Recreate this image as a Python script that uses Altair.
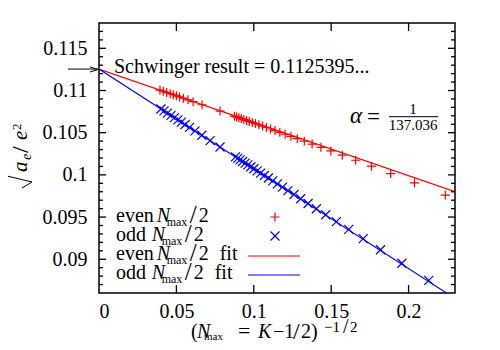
import altair as alt
import pandas as pd

# ---------------- data ----------------
even_x = [0.22374, 0.20381, 0.18840, 0.17604, 0.16582, 0.15720, 0.14980, 0.14336,
          0.13768, 0.13262, 0.12809, 0.12398, 0.12026, 0.11684, 0.11371, 0.11081,
          0.10812, 0.10562, 0.10329, 0.10110, 0.09905, 0.09711, 0.09529, 0.09357,
          0.09193, 0.09038, 0.08890, 0.08750,
          0.0782, 0.0666, 0.0608, 0.0575, 0.0545, 0.0520, 0.0500, 0.0480, 0.0460,
          0.0437, 0.0415, 0.0394]
even_y = [0.097605, 0.099058, 0.100158, 0.101027, 0.101736, 0.102329, 0.102834, 0.103271,
          0.103654, 0.103992, 0.104296, 0.104569, 0.104817, 0.105043, 0.105250, 0.105440,
          0.105617, 0.105781, 0.105934, 0.106077, 0.106211, 0.106338, 0.106457, 0.106568,
          0.106675, 0.106776, 0.106872, 0.106962,
          0.107564, 0.108310, 0.108681, 0.108893, 0.109085, 0.109244, 0.109371, 0.109498,
          0.109626, 0.109772, 0.109912, 0.110046]
odd_x = [0.21308, 0.19565, 0.18190, 0.17070, 0.16134, 0.15337, 0.14647, 0.14043,
         0.13508, 0.13030, 0.12599, 0.12208, 0.11851, 0.11524, 0.11223, 0.10944,
         0.10685, 0.10443, 0.10218, 0.10006, 0.09807, 0.09619, 0.09441, 0.09274,
         0.09114, 0.08963, 0.08819,
         0.0782, 0.0718, 0.0664, 0.0620, 0.0585, 0.0556, 0.0532, 0.0510, 0.0487,
         0.0465, 0.0442, 0.0420, 0.0400]
odd_y = [0.087499, 0.089526, 0.091129, 0.092438, 0.093533, 0.094466, 0.095274, 0.095983,
         0.096611, 0.097172, 0.097678, 0.098137, 0.098557, 0.098942, 0.099295, 0.099624,
         0.099928, 0.100213, 0.100478, 0.100728, 0.100962, 0.101183, 0.101394, 0.101590,
         0.101778, 0.101957, 0.102126,
         0.103304, 0.104059, 0.104696, 0.105216, 0.105628, 0.105971, 0.106254, 0.106514,
         0.106785, 0.107045, 0.107317, 0.107577, 0.107813]
fit_x = [0.0, 0.23]
even_fit_y = [0.11254, 0.09801]
odd_fit_y = [0.11254, 0.08535]
schwinger = 0.1125395
x_labels = [0, 0.05, 0.1, 0.15, 0.2]
x_ticks = [0.05, 0.1, 0.15, 0.2]
y_major = [0.09, 0.095, 0.1, 0.105, 0.11, 0.115]
y_minor = [0.087, 0.088, 0.089, 0.091, 0.092, 0.093, 0.094, 0.096, 0.097, 0.098, 0.099,
           0.101, 0.102, 0.103, 0.104, 0.106, 0.107, 0.108, 0.109, 0.111, 0.112, 0.113,
           0.114, 0.116, 0.117]

# ---------------- layout ----------------
W, H = 356, 270
OX, OY = 99, 23          # page position of the plot origin
SERIF = "Liberation Serif"
RED, BLUE = "#ff0000", "#0000ff"
PLUS = "M-1,0L1,0M0,-1L0,1"
CROSS = "M-1,-1L1,1M-1,1L1,-1"

xs = alt.Scale(domain=[0, 0.23], nice=False, zero=False)
ys = alt.Scale(domain=[0.086, 0.118], nice=False, zero=False)
AXX = alt.Axis(values=x_labels, format="~g", ticks=False, tickSize=0, domain=False, grid=False,
               title=None, labelFont=SERIF, labelFontSize=20, labelColor="black", labelPadding=8)
AXY = alt.Axis(values=y_major, format="~g", ticks=False, tickSize=0, domain=False, grid=False,
               title=None, labelFont=SERIF, labelFontSize=20, labelColor="black", labelPadding=12)

def X(f):
    return alt.X(f, scale=xs, axis=AXX)

def Y(f):
    return alt.Y(f, scale=ys, axis=AXY)

layers = []

# fit lines
fit_df = pd.DataFrame({"x": fit_x, "e": even_fit_y, "o": odd_fit_y})
layers.append(alt.Chart(fit_df).mark_line(color=RED, strokeWidth=1.1, clip=True).encode(
    x=X("x:Q"), y=Y("e:Q")))
layers.append(alt.Chart(fit_df).mark_line(color=BLUE, strokeWidth=1.1, clip=True).encode(
    x=X("x:Q"), y=Y("o:Q")))

# data points
layers.append(alt.Chart(pd.DataFrame({"x": even_x, "y": even_y})).mark_point(
    shape=PLUS, size=81, strokeWidth=1.2, color=RED, filled=False, opacity=1).encode(
    x=X("x:Q"), y=Y("y:Q")))
layers.append(alt.Chart(pd.DataFrame({"x": odd_x, "y": odd_y})).mark_point(
    shape=CROSS, size=81, strokeWidth=1.2, color=BLUE, filled=False, opacity=1).encode(
    x=X("x:Q"), y=Y("y:Q")))

# inward ticks
def xtick_layer(vals, y0, y1):
    return alt.Chart(pd.DataFrame({"t": vals})).mark_rule(color="black", strokeWidth=1.3).encode(
        x=X("t:Q"), y=alt.value(y0), y2=alt.value(y1))

def ytick_layer(vals, x0, x1):
    return alt.Chart(pd.DataFrame({"t": vals})).mark_rule(color="black", strokeWidth=1.3).encode(
        y=Y("t:Q"), x=alt.value(x0), x2=alt.value(x1))

layers += [xtick_layer(x_ticks, H, H - 8), xtick_layer(x_ticks, 0, 8),
           ytick_layer(y_major, 0, 7), ytick_layer(y_major, W, W - 7),
           ytick_layer(y_minor, 0, 4), ytick_layer(y_minor, W, W - 4)]

# Schwinger arrow (outside, left of the axis)
sch = pd.DataFrame({"v": [schwinger]})
layers.append(alt.Chart(sch).mark_rule(color="black", strokeWidth=1).encode(
    y=Y("v:Q"), x=alt.value(68 - OX), x2=alt.value(98 - OX)))


def T(s, px, py, size=20, style="normal", align="left", angle=0, color="black"):
    return alt.Chart(pd.DataFrame({"s": [s]})).mark_text(
        font=SERIF, fontSize=size, fontStyle=style, align=align, baseline="alphabetic",
        angle=angle, color=color).encode(x=alt.value(px - OX), y=alt.value(py - OY), text="s:N")

def R(px0, py0, px1, py1, color="black", w=1.0):
    return alt.Chart(pd.DataFrame({"a": [0]})).mark_rule(color=color, strokeWidth=w).encode(
        x=alt.value(px0 - OX), x2=alt.value(px1 - OX), y=alt.value(py0 - OY), y2=alt.value(py1 - OY))

# arrow head
layers.append(R(90, 67, 98, 69.5))
layers.append(R(90, 72, 98, 69.5))

# annotations
layers.append(T("Schwinger result = 0.1125395...", 114, 73))
layers.append(T("α", 350, 123, size=23, style="italic"))
layers.append(T("=", 367, 124, size=23))
layers.append(T("1", 413, 114, size=15, align="center"))
layers.append(T("137.036", 413, 130, size=15, align="center"))
layers.append(R(389, 116.7, 438, 116.7))

# legend
leg_words = ["even", "odd", "even", "odd"]
leg_base = [222, 241, 260, 279]
for i, (w, b) in enumerate(zip(leg_words, leg_base)):
    nx = 156.7 if w == "even" else 151.7
    layers.append(T(w, 116, b))
    layers.append(T("N", nx, b, style="italic"))
    layers.append(T("max", nx + 10, b + 4, size=12))
    layers.append(T("/", nx + 33, b + 1, size=25))
    layers.append(T("2", nx + 42, b))
    if i >= 2:
        layers.append(T("fit", nx + 63, b))
layers.append(alt.Chart(pd.DataFrame({"a": [0]})).mark_point(
    shape=PLUS, size=81, strokeWidth=1.2, color=RED, filled=False, opacity=1).encode(
    x=alt.value(275 - OX), y=alt.value(217 - OY)))
layers.append(alt.Chart(pd.DataFrame({"a": [0]})).mark_point(
    shape=CROSS, size=81, strokeWidth=1.2, color=BLUE, filled=False, opacity=1).encode(
    x=alt.value(275 - OX), y=alt.value(236 - OY)))
layers.append(R(248, 256, 300, 256, color=RED, w=1.1))
layers.append(R(248, 275, 300, 275, color=BLUE, w=1.1))

# x title
layers.append(T("(", 191, 337.5))
layers.append(T("N", 197, 337.5, style="italic"))
layers.append(T("max", 204, 340, size=11))
layers.append(T("=", 238, 338, size=22))
layers.append(T("K", 258, 337.5, style="italic"))
layers.append(T("−1", 273, 337.5))
layers.append(T("/", 293, 338.5, size=24))
layers.append(T("2)", 301, 337.5))
layers.append(T("−1", 324, 332, size=15))
layers.append(T("/", 343, 333, size=20))
layers.append(T("2", 350, 332, size=15))

# y title (rotated, reading upward)
layers.append(T("a", 27, 172, size=21, style="italic", angle=270))
layers.append(T("e", 31, 160, size=14, style="italic", angle=270))
layers.append(T("/", 28, 153, size=24, angle=270))
layers.append(T("e", 27, 140, size=21, style="italic", angle=270))
layers.append(T("2", 21, 130, size=13, angle=270))
layers.append(R(7, 120, 7, 176))
layers.append(R(7, 176, 32, 182))
layers.append(R(32, 182, 22, 188))

chart = alt.layer(*layers).properties(
    width=W, height=H,
    padding={"left": 91, "top": 15, "right": 37, "bottom": 49},
    autosize=alt.AutoSizeParams(type="none"),
).configure_view(stroke="black", strokeWidth=1.5)

chart.save("out.html", embed_options={"renderer": "svg", "actions": False})
